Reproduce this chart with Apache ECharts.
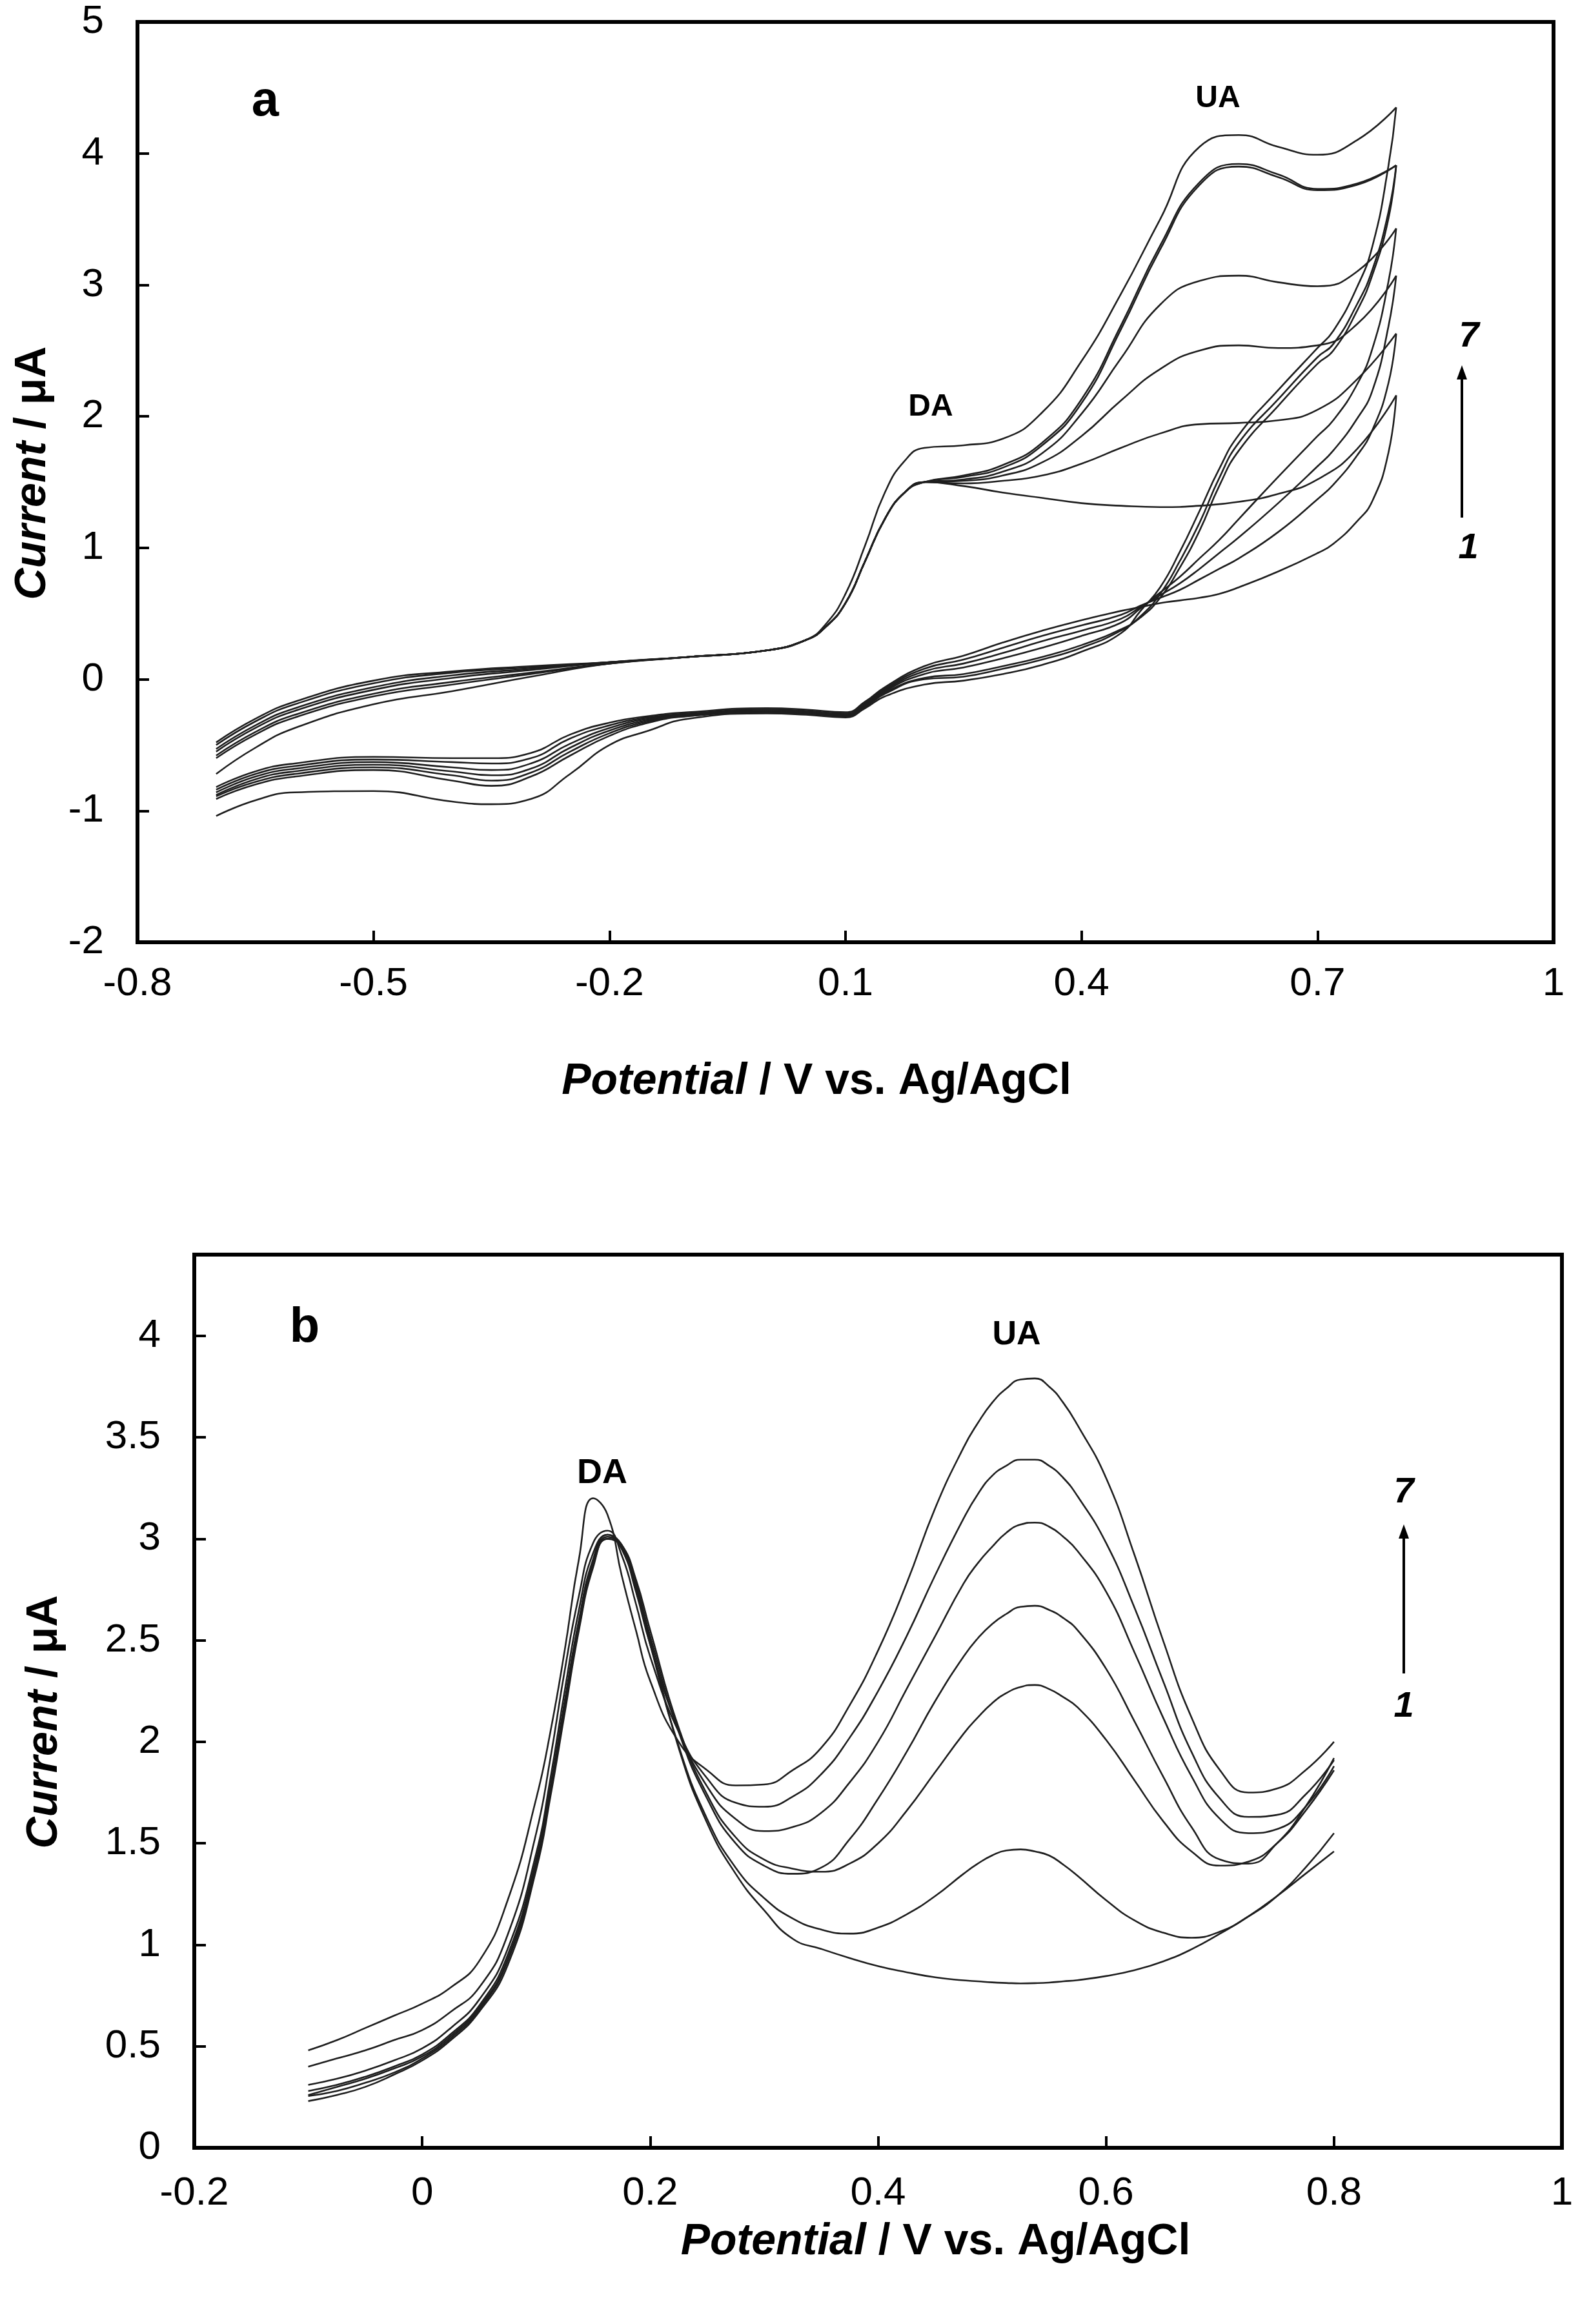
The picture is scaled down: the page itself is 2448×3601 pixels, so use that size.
<!DOCTYPE html>
<html>
<head>
<meta charset="utf-8">
<title>CV / DPV of DA and UA</title>
<script src="https://cdn.jsdelivr.net/npm/echarts/dist/echarts.min.js"></script>
<style>
    html, body { margin: 0; padding: 0; background: #fff; }
    #chart { width: 2448px; height: 3601px; }
</style>
</head>
<body>
<div id="chart"></div>
<script>
// ---- panel a : cyclic voltammograms (forward sweep up, reverse sweep back) ----
var cvUpE = [-0.7, -0.65, -0.6, -0.5, -0.4, -0.3, -0.2, -0.1, 0, 0.05, 0.075, 0.1, 0.125, 0.15, 0.175, 0.2,
             0.25, 0.3, 0.35, 0.4, 0.45, 0.5, 0.55, 0.6, 0.65, 0.7, 0.75, 0.8];
var cvDownE = [0.8, 0.79, 0.77, 0.75, 0.72, 0.7, 0.65, 0.6, 0.575, 0.55, 0.525, 0.5, 0.475, 0.45, 0.4, 0.35,
               0.3, 0.25, 0.2, 0.15, 0.125, 0.1, 0.05, 0, -0.1, -0.15, -0.2, -0.25, -0.3, -0.35, -0.4, -0.5,
               -0.6, -0.65, -0.7];

var cvUp1 = [-0.48, -0.3, -0.17, -0.01, 0.06, 0.1, 0.13, 0.17, 0.22, 0.3, 0.4, 0.58, 0.9, 1.22, 1.42, 1.5,
             1.47, 1.42, 1.38, 1.34, 1.32, 1.31, 1.32, 1.35, 1.41, 1.52, 1.75, 2.16];
var cvUp2 = [-0.5, -0.32, -0.19, -0.03, 0.05, 0.09, 0.13, 0.17, 0.22, 0.3, 0.4, 0.58, 0.9, 1.22, 1.42, 1.5,
             1.49, 1.51, 1.55, 1.64, 1.76, 1.87, 1.94, 1.95, 1.97, 2.05, 2.28, 2.63];
var cvUp3 = [-0.53, -0.35, -0.22, -0.06, 0.03, 0.08, 0.13, 0.17, 0.22, 0.3, 0.4, 0.58, 0.9, 1.22, 1.42, 1.5,
             1.51, 1.55, 1.65, 1.85, 2.12, 2.36, 2.5, 2.54, 2.52, 2.54, 2.7, 3.07];
var cvUp4 = [-0.55, -0.37, -0.24, -0.08, 0.01, 0.07, 0.13, 0.17, 0.22, 0.3, 0.4, 0.58, 0.9, 1.22, 1.42, 1.5,
             1.52, 1.58, 1.72, 2.02, 2.44, 2.85, 3.03, 3.07, 3.02, 2.99, 3.1, 3.43];
var cvUp5 = [-0.58, -0.4, -0.27, -0.11, -0.02, 0.05, 0.12, 0.17, 0.22, 0.3, 0.4, 0.58, 0.9, 1.22, 1.42, 1.5,
             1.54, 1.61, 1.78, 2.1, 2.66, 3.27, 3.76, 3.9, 3.82, 3.72, 3.76, 3.91];
var cvUp6 = [-0.6, -0.42, -0.29, -0.13, -0.04, 0.04, 0.12, 0.17, 0.22, 0.3, 0.4, 0.58, 0.9, 1.22, 1.42, 1.5,
             1.55, 1.63, 1.8, 2.13, 2.69, 3.3, 3.78, 3.92, 3.84, 3.73, 3.77, 3.91];
var cvUp7 = [-0.72, -0.52, -0.37, -0.19, -0.09, 0.02, 0.12, 0.17, 0.22, 0.3, 0.42, 0.65, 1.02, 1.42, 1.66, 1.76,
             1.78, 1.83, 2.03, 2.42, 2.93, 3.5, 4.05, 4.14, 4.05, 3.99, 4.1, 4.35];

var cvDown1 = [2.16, 1.72, 1.36, 1.2, 1.03, 0.96, 0.82, 0.7, 0.65, 0.62, 0.6, 0.58, 0.55, 0.52, 0.45, 0.37,
               0.28, 0.18, 0.1, -0.06, -0.17, -0.25, -0.23, -0.22, -0.25, -0.28, -0.33, -0.42, -0.56, -0.6,
               -0.6, -0.59, -0.64, -0.7, -0.82];
var cvDown2 = [2.63, 2.25, 1.9, 1.7, 1.48, 1.37, 1.12, 0.92, 0.84, 0.76, 0.68, 0.62, 0.56, 0.49, 0.41, 0.33,
               0.24, 0.15, 0.08, -0.07, -0.18, -0.26, -0.24, -0.23, -0.26, -0.29, -0.35, -0.45, -0.6, -0.64,
               -0.63, -0.61, -0.66, -0.72, -0.84];
var cvDown3 = [3.07, 2.68, 2.2, 1.98, 1.74, 1.62, 1.34, 1.08, 0.96, 0.84, 0.73, 0.64, 0.55, 0.46, 0.37, 0.29,
               0.2, 0.12, 0.06, -0.08, -0.19, -0.27, -0.25, -0.24, -0.27, -0.3, -0.37, -0.49, -0.64, -0.69,
               -0.67, -0.63, -0.68, -0.74, -0.86];
var cvDown4 = [3.43, 3.02, 2.52, 2.24, 1.97, 1.85, 1.54, 1.22, 1.06, 0.92, 0.78, 0.66, 0.54, 0.43, 0.33, 0.24,
               0.16, 0.09, 0.04, -0.09, -0.2, -0.27, -0.25, -0.24, -0.27, -0.31, -0.39, -0.52, -0.68, -0.73,
               -0.7, -0.65, -0.7, -0.76, -0.88];
var cvDown5 = [3.91, 3.5, 3.08, 2.8, 2.5, 2.4, 2.08, 1.74, 1.47, 1.13, 0.85, 0.62, 0.47, 0.38, 0.26, 0.17,
               0.1, 0.04, 0.01, -0.1, -0.2, -0.28, -0.26, -0.25, -0.28, -0.32, -0.41, -0.55, -0.71, -0.77,
               -0.73, -0.67, -0.72, -0.78, -0.89];
var cvDown6 = [3.91, 3.55, 3.12, 2.85, 2.55, 2.45, 2.13, 1.8, 1.53, 1.19, 0.9, 0.65, 0.48, 0.37, 0.24, 0.15,
               0.08, 0.02, 0.0, -0.11, -0.21, -0.28, -0.26, -0.25, -0.28, -0.33, -0.43, -0.58, -0.74, -0.81,
               -0.77, -0.69, -0.74, -0.8, -0.91];
var cvDown7 = [4.35, 3.9, 3.3, 2.98, 2.65, 2.52, 2.2, 1.86, 1.6, 1.28, 0.97, 0.7, 0.52, 0.35, 0.21, 0.11,
               0.04, -0.01, -0.04, -0.13, -0.22, -0.29, -0.27, -0.26, -0.3, -0.39, -0.5, -0.72, -0.91, -0.95,
               -0.93, -0.85, -0.86, -0.92, -1.04];

// ---- panel b : differential pulse voltammograms ----
var dpvE = [-0.1, -0.075, -0.05, -0.025, 0, 0.025, 0.05, 0.075, 0.1, 0.1125, 0.125, 0.1375, 0.15, 0.1625,
            0.175, 0.1875, 0.2, 0.225, 0.25, 0.275, 0.3, 0.325, 0.35, 0.375, 0.4, 0.425, 0.45, 0.475, 0.4875,
            0.5, 0.5125, 0.525, 0.5375, 0.55, 0.5625, 0.575, 0.6, 0.625, 0.65, 0.675, 0.7, 0.725, 0.75,
            0.775, 0.8];

var dpv1 = [0.23, 0.26, 0.3, 0.36, 0.43, 0.53, 0.67, 0.9, 1.37, 1.73, 2.14, 2.55, 2.86, 3.0, 2.97, 2.78, 2.5,
            1.97, 1.6, 1.35, 1.17, 1.03, 0.98, 0.935, 0.895, 0.865, 0.84, 0.825, 0.82, 0.815, 0.812, 0.81,
            0.811, 0.814, 0.82, 0.826, 0.846, 0.875, 0.918, 0.978, 1.055, 1.14, 1.24, 1.35, 1.46];
var dpv2 = [0.255, 0.28, 0.32, 0.37, 0.44, 0.54, 0.68, 0.92, 1.39, 1.75, 2.16, 2.56, 2.87, 3.0, 2.96, 2.76, 2.48,
            1.98, 1.62, 1.38, 1.23, 1.13, 1.075, 1.055, 1.085, 1.15, 1.24, 1.35, 1.4, 1.44, 1.465, 1.47,
            1.46, 1.44, 1.395, 1.34, 1.22, 1.12, 1.06, 1.035, 1.065, 1.14, 1.24, 1.38, 1.55];
var dpv3 = [0.26, 0.3, 0.34, 0.39, 0.45, 0.55, 0.69, 0.93, 1.41, 1.77, 2.18, 2.58, 2.88, 3.01, 2.97, 2.8, 2.55,
            2.07, 1.74, 1.53, 1.42, 1.375, 1.36, 1.4, 1.5, 1.66, 1.85, 2.04, 2.12, 2.19, 2.24, 2.27, 2.28,
            2.26, 2.22, 2.17, 2.01, 1.81, 1.61, 1.46, 1.39, 1.41, 1.5, 1.66, 1.86];
var dpv4 = [0.28, 0.31, 0.35, 0.4, 0.46, 0.56, 0.7, 0.95, 1.42, 1.78, 2.2, 2.6, 2.9, 3.02, 2.97, 2.78, 2.52,
            2.05, 1.72, 1.5, 1.39, 1.35, 1.38, 1.52, 1.72, 1.95, 2.2, 2.42, 2.51, 2.58, 2.63, 2.665, 2.67,
            2.65, 2.61, 2.55, 2.36, 2.1, 1.83, 1.58, 1.42, 1.4, 1.5, 1.68, 1.92];
var dpv5 = [0.31, 0.34, 0.38, 0.43, 0.49, 0.59, 0.73, 0.98, 1.45, 1.82, 2.25, 2.65, 2.93, 3.02, 2.95, 2.74, 2.48,
            2.06, 1.78, 1.62, 1.56, 1.58, 1.65, 1.8, 2.0, 2.26, 2.52, 2.78, 2.88, 2.96, 3.03, 3.07, 3.08,
            3.06, 3.01, 2.94, 2.74, 2.44, 2.12, 1.83, 1.62, 1.55, 1.57, 1.68, 1.88];
var dpv6 = [0.4, 0.44, 0.48, 0.53, 0.58, 0.67, 0.79, 1.05, 1.55, 1.92, 2.35, 2.72, 2.98, 3.04, 2.92, 2.68, 2.42,
            2.05, 1.82, 1.7, 1.68, 1.73, 1.84, 2.02, 2.25, 2.52, 2.82, 3.1, 3.22, 3.31, 3.36, 3.39, 3.39,
            3.36, 3.3, 3.21, 2.98, 2.66, 2.3, 1.95, 1.72, 1.63, 1.64, 1.74, 1.91];
var dpv7 = [0.48, 0.53, 0.59, 0.65, 0.71, 0.79, 0.92, 1.22, 1.72, 2.05, 2.45, 2.9, 3.2, 3.12, 2.82, 2.55, 2.3,
            2.0, 1.86, 1.785, 1.79, 1.86, 1.97, 2.18, 2.45, 2.78, 3.15, 3.45, 3.57, 3.67, 3.74, 3.785, 3.79,
            3.75, 3.67, 3.56, 3.3, 2.92, 2.5, 2.12, 1.86, 1.75, 1.77, 1.86, 2.0];

var FONT = "'Liberation Sans', Arial, sans-serif";

function pairs(xs, ys) {
    return xs.map(function (x, i) { return [x, ys[i]]; });
}

function curve(data, gi) {
    return {
        type: 'line',
        xAxisIndex: gi,
        yAxisIndex: gi,
        data: data,
        smooth: 0.5,
        symbol: 'none',
        lineStyle: { color: '#1e1e1e', width: 2.6 },
        silent: true
    };
}

function valueAxis(gi, min, max, step, margin) {
    return {
        type: 'value',
        gridIndex: gi,
        min: min,
        max: max,
        interval: step,
        axisLine: { show: true, onZero: false, lineStyle: { color: '#000', width: 6 } },
        axisTick: { show: true, inside: true, length: 18, lineStyle: { color: '#000', width: 4 } },
        axisLabel: { color: '#000', fontSize: 62, fontFamily: FONT, margin: margin, showMaxLabel: true },
        splitLine: { show: false }
    };
}

var nameRich = {
    i: { fontFamily: FONT, fontSize: 68, fontWeight: 'bold', fontStyle: 'italic', color: '#000' },
    b: { fontFamily: FONT, fontSize: 68, fontWeight: 'bold', color: '#000' }
};

var xa = valueAxis(0, -0.8, 1, 0.3, 34);
xa.name = '{i|Potential}{b| / V vs. Ag/AgCl}';
xa.nameLocation = 'middle';
xa.nameGap = 182;
xa.nameTextStyle = { rich: nameRich, padding: [0, 90, 0, 0] };

var ya = valueAxis(0, -2, 5, 1, 52);
ya.name = '{i|Current}{b| / μA}';
ya.nameLocation = 'middle';
ya.nameRotate = 90;
ya.nameGap = 128;
ya.nameTextStyle = { rich: nameRich, padding: [0, 0, 0, 28] };

var xb = valueAxis(1, -0.2, 1, 0.2, 40);
xb.name = '{i|Potential}{b| / V vs. Ag/AgCl}';
xb.nameLocation = 'middle';
xb.nameGap = 112;
xb.nameTextStyle = { rich: nameRich, padding: [0, 0, 0, 178] };

var yb = valueAxis(1, 0, 4.4, 0.5, 52);
yb.axisLabel.showMaxLabel = false;
yb.name = '{i|Current}{b| / μA}';
yb.nameLocation = 'middle';
yb.nameRotate = 90;
yb.nameGap = 198;
yb.nameTextStyle = { rich: nameRich, padding: [0, 64, 0, 0] };

var series = [];
[cvUp1, cvUp2, cvUp3, cvUp4, cvUp5, cvUp6, cvUp7].forEach(function (ys) {
    series.push(curve(pairs(cvUpE, ys), 0));
});
[cvDown1, cvDown2, cvDown3, cvDown4, cvDown5, cvDown6, cvDown7].forEach(function (ys) {
    series.push(curve(pairs(cvDownE, ys), 0));
});
[dpv1, dpv2, dpv3, dpv4, dpv5, dpv6, dpv7].forEach(function (ys) {
    series.push(curve(pairs(dpvE, ys), 1));
});

function label(txt, x, y, size, italic) {
    return {
        type: 'text', x: x, y: y, silent: true,
        style: {
            text: txt, fill: '#000', align: 'center', verticalAlign: 'middle',
            fontFamily: FONT, fontSize: size, fontWeight: 'bold', fontStyle: italic ? 'italic' : 'normal'
        }
    };
}

function arrow(x, yBottom, yTip) {
    return {
        type: 'group', silent: true,
        children: [
            { type: 'line', shape: { x1: x, y1: yBottom, x2: x, y2: yTip + 18 }, style: { stroke: '#000', lineWidth: 4 } },
            { type: 'polygon', shape: { points: [[x, yTip], [x - 8, yTip + 22], [x + 8, yTip + 22]] }, style: { fill: '#000' } }
        ]
    };
}

var chart = echarts.init(document.getElementById('chart'), null, { renderer: 'canvas' });
chart.setOption({
    backgroundColor: '#fff',
    animation: false,
    grid: [
        { left: 213, top: 34, width: 2194, height: 1426, show: true, borderColor: '#000', borderWidth: 6 },
        { left: 301, top: 1944, width: 2119, height: 1384, show: true, borderColor: '#000', borderWidth: 6 }
    ],
    xAxis: [xa, xb],
    yAxis: [ya, yb],
    series: series,
    graphic: [
        label('a', 411, 158, 76, false),
        label('DA', 1442, 631, 48, false),
        label('UA', 1887, 153, 48, false),
        label('7', 2276, 522, 56, true),
        label('1', 2275, 850, 56, true),
        arrow(2265, 802, 566),
        label('b', 472, 2058, 76, false),
        label('DA', 933, 2283, 54, false),
        label('UA', 1575, 2069, 52, false),
        label('7', 2175, 2313, 56, true),
        label('1', 2175, 2645, 56, true),
        arrow(2175, 2593, 2362)
    ]
});
</script>
</body>
</html>
